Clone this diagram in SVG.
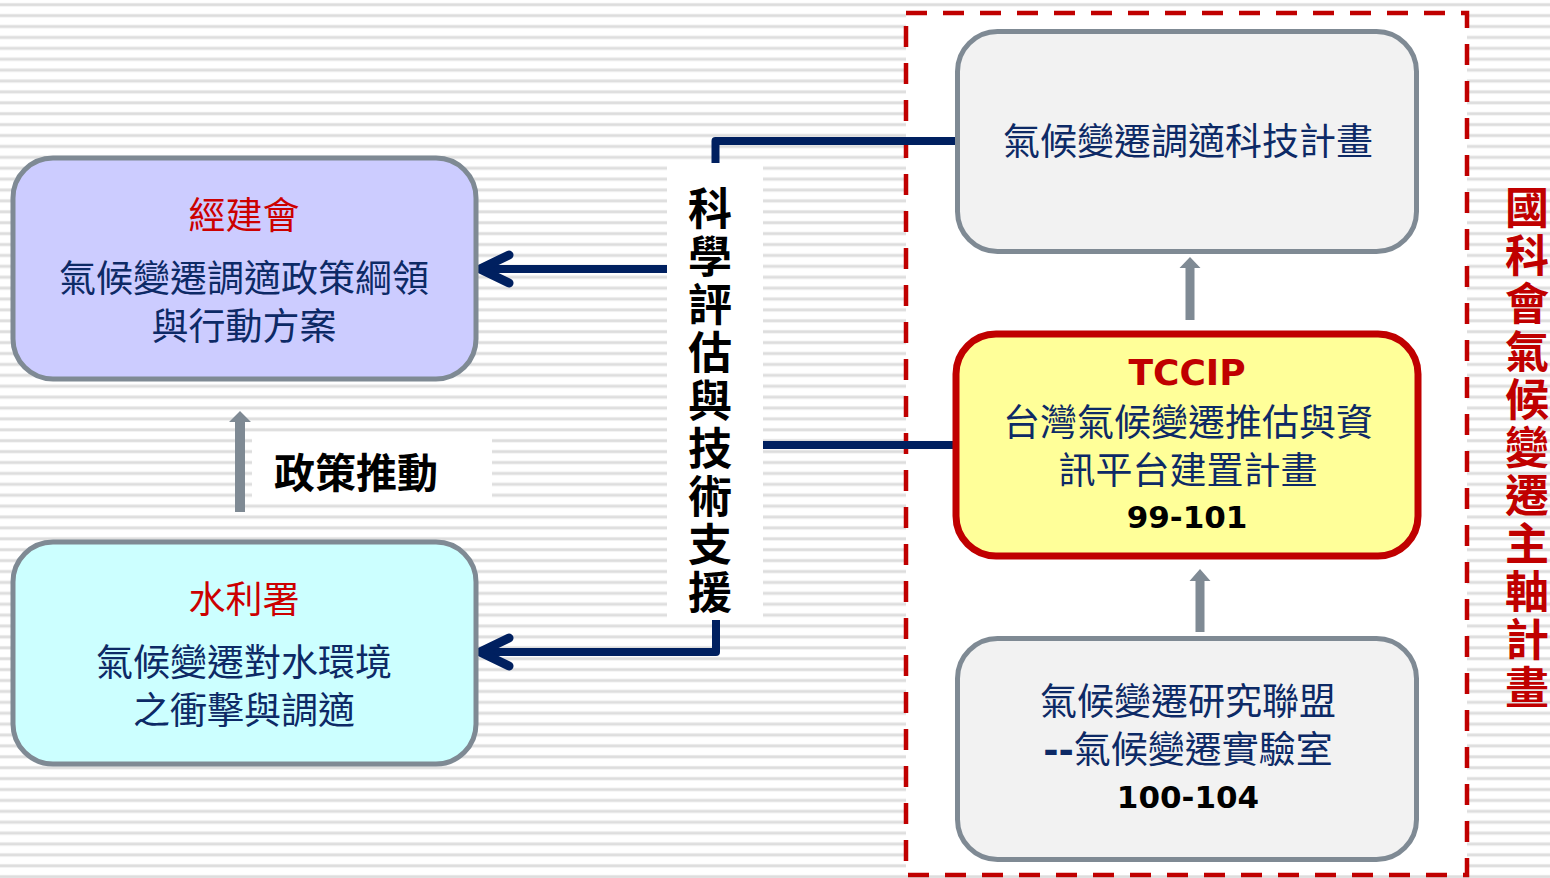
<svg xmlns="http://www.w3.org/2000/svg" width="1550" height="878" viewBox="0 0 1550 878">
<defs>
<pattern id="stripes" x="0" y="0" width="20" height="10.9" patternUnits="userSpaceOnUse">
<rect width="20" height="10.9" fill="#ffffff"/>
<rect y="2.9" width="20" height="3.6" fill="#ededed"/>
<rect y="3.6" width="20" height="2.2" fill="#dddddd"/>
</pattern>
</defs>
<style>
.cjk{font-family:"Noto Sans CJK TC","Noto Sans CJK SC",sans-serif;}
.lat{font-family:"DejaVu Sans","Liberation Sans",sans-serif;font-weight:bold;}
.body{font-size:37px;fill:#0d2a66;text-anchor:middle;}
.title{font-size:37px;fill:#cc0000;text-anchor:middle;}
.num{font-size:31px;fill:#000000;text-anchor:middle;}
.vert{font-size:44px;font-weight:bold;writing-mode:vertical-rl;letter-spacing:4px;}
.box{stroke:#7f8a94;stroke-width:5;}
.conn{fill:none;stroke:#002060;stroke-width:8;stroke-linejoin:round;}
.chev{fill:none;stroke:#002060;stroke-width:9;stroke-linecap:round;stroke-linejoin:round;}
.garrow{fill:#7f8a94;}
</style>

<rect x="0" y="0" width="1550" height="878" fill="url(#stripes)"/>

<g id="main-frame">
<rect x="906" y="13" width="561" height="862" fill="#ffffff" stroke="#c00000" stroke-width="4.5" stroke-dasharray="21 16"/>
<text class="cjk vert" x="1527" y="185" fill="#c00000">國科會氣候變遷主軸計畫</text>
</g>

<g id="connectors">
<path class="conn" d="M 955 141 L 715.5 141 L 715.5 170"/>
<path class="conn" d="M 667 269 L 484 269"/>
<path class="chev" d="M 509 255 L 480 269 L 509 283"/>
<path class="conn" d="M 716 615 L 716 652 L 484 652"/>
<path class="chev" d="M 509 638 L 480 652 L 509 666"/>
<path class="conn" d="M 760 445 L 955 445"/>
<path class="garrow" d="M 235 512 L 235 422 L 229 422 L 240 411 L 251 422 L 245 422 L 245 512 Z"/>
<path class="garrow" d="M 1185.5 320 L 1185.5 268 L 1179.5 268 L 1190 257 L 1200.5 268 L 1194.5 268 L 1194.5 320 Z"/>
<path class="garrow" d="M 1195.5 632 L 1195.5 581 L 1189.5 581 L 1200 569 L 1210.5 581 L 1204.5 581 L 1204.5 632 Z"/>
</g>

<g id="label-support">
<rect x="667" y="163" width="96" height="457" fill="#ffffff"/>
<text class="cjk vert" x="710" y="186" fill="#000000">科學評估與技術支援</text>
</g>

<g id="label-policy">
<rect x="252" y="437" width="240" height="65" fill="#ffffff"/>
<text class="cjk" x="356" y="488" font-size="41" font-weight="bold" fill="#000000" text-anchor="middle">政策推動</text>
</g>

<g id="node-cepd">
<rect class="box" x="13" y="158" width="463" height="221" rx="40" fill="#ccccff"/>
<text class="cjk title" x="244" y="229">經建會</text>
<text class="cjk body" x="244" y="292">氣候變遷調適政策綱領</text>
<text class="cjk body" x="244" y="340">與行動方案</text>
</g>

<g id="node-wra">
<rect class="box" x="13" y="542" width="463" height="222" rx="40" fill="#ccffff"/>
<text class="cjk title" x="244" y="613">水利署</text>
<text class="cjk body" x="244" y="676">氣候變遷對水環境</text>
<text class="cjk body" x="244" y="724">之衝擊與調適</text>
</g>

<g id="node-tech">
<rect class="box" x="957.5" y="31.5" width="459" height="220" rx="40" fill="#f2f2f2"/>
<text class="cjk body" x="1188" y="155">氣候變遷調適科技計畫</text>
</g>

<g id="node-tccip">
<rect x="956" y="334" width="462" height="222" rx="40" fill="#ffff99" stroke="#c00000" stroke-width="7"/>
<text class="lat" x="1187" y="385" font-size="36" fill="#c00000" text-anchor="middle">TCCIP</text>
<text class="cjk body" x="1188" y="436">台灣氣候變遷推估與資</text>
<text class="cjk body" x="1188" y="484">訊平台建置計畫</text>
<text class="lat num" x="1187" y="528">99-101</text>
</g>

<g id="node-lab">
<rect class="box" x="957.5" y="638.5" width="459" height="221" rx="40" fill="#f2f2f2"/>
<text class="cjk body" x="1188" y="715">氣候變遷研究聯盟</text>
<text class="cjk body" x="1188" y="763"><tspan class="lat" font-size="37">--</tspan>氣候變遷實驗室</text>
<text class="lat num" x="1188" y="808">100-104</text>
</g>
</svg>
